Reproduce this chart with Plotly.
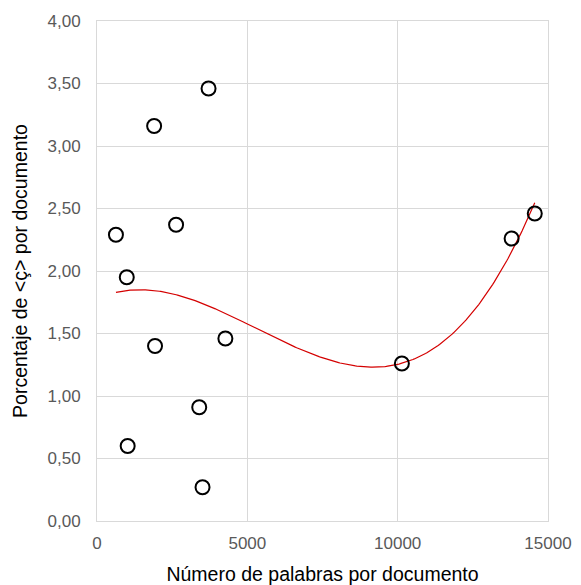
import numpy as np
import plotly.graph_objects as go

palabras = [630, 990, 1020, 1900, 1930, 2630, 3400, 3510, 3710, 4270, 10140, 13790, 14560]
porcentaje = [2.29, 1.95, 0.60, 3.16, 1.40, 2.37, 0.91, 0.27, 3.46, 1.46, 1.26, 2.26, 2.46]

x_title = "Número de palabras por documento"
y_title = "Porcentaje de &lt;ç&gt; por documento"
x_ticks = [0, 5000, 10000, 15000]
y_ticks = [0, 0.5, 1.0, 1.5, 2.0, 2.5, 3.0, 3.5, 4.0]

# cubic polynomial trend line (as in a spreadsheet trendline)
coef = np.polyfit(palabras, porcentaje, 3)
xs = np.linspace(min(palabras), max(palabras), 300)
ys = np.polyval(coef, xs)

fig = go.Figure()
fig.add_trace(go.Scatter(x=xs, y=ys, mode="lines",
                         line=dict(color="#d40000", width=1.2),
                         hoverinfo="skip", showlegend=False))
fig.add_trace(go.Scatter(x=palabras, y=porcentaje, mode="markers",
                         marker=dict(symbol="circle-open", size=14,
                                     color="black", line=dict(width=2, color="black")),
                         showlegend=False))

axis_font = dict(family="Liberation Sans, Arial, sans-serif", size=17, color="#595959")
fig.update_layout(
    width=581, height=585,
    margin=dict(l=97, r=33, t=21, b=64),
    paper_bgcolor="white", plot_bgcolor="white",
    separators=",.",
    font=dict(family="Liberation Sans, Arial, sans-serif", color="black"),
    xaxis=dict(range=[0, 15000], tickvals=x_ticks, tickformat="d", automargin=False,
               showgrid=True, gridcolor="#d9d9d9", gridwidth=1,
               zeroline=False, showline=True, linecolor="#d9d9d9", mirror=True,
               tickfont=axis_font, ticks="", ticklabelstandoff=7,
               title=dict(text=x_title, font=dict(size=19.5, color="black"), standoff=14)),
    yaxis=dict(range=[0, 4], tickvals=y_ticks, tickformat=".2f", automargin=False,
               showgrid=True, gridcolor="#d9d9d9", gridwidth=1,
               zeroline=False, showline=True, linecolor="#d9d9d9", mirror=True,
               tickfont=axis_font, ticks="", ticklabelstandoff=12,
               title=dict(text=y_title, font=dict(size=19.5, color="black"), standoff=14)),
)

fig.write_html("out.html")
